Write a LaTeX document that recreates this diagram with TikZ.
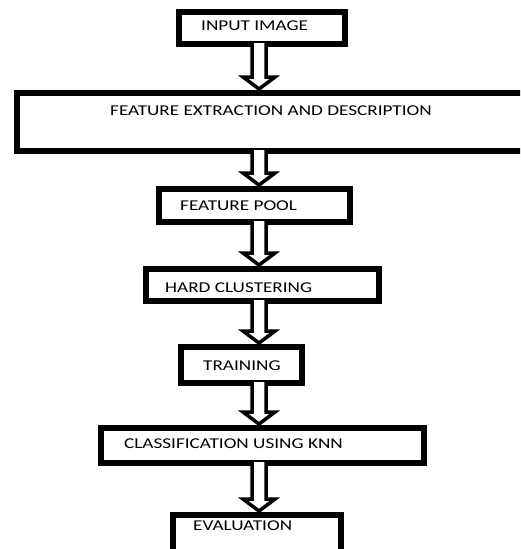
\documentclass[tikz,border=0pt]{standalone}
\usepackage{fontspec}
\setmainfont{Carlito}[FakeStretch=1.28]
\usetikzlibrary{calc}
\tikzset{
  stepbox/.style={draw=black, line width=6pt, fill=white, rectangle, inner sep=0pt},
  lbl/.style={anchor=base west, inner sep=0pt, text=black, font=\fontsize{15}{17}\selectfont},
  hollow/.style={draw=black, line width=3.5pt, fill=white, line join=miter}
}
\newcommand{\hollowarrow}[2]{%
  \path[hollow] let \p1=(#1.south -| ax), \p2=(#2.north -| ax) in
    (\x1-7pt,\y1+4pt) -- (\x1-7pt,\y2+13pt) -- (\x1-16pt,\y2+13pt) -- (\x1,\y2+1pt)
    -- (\x1+16pt,\y2+13pt) -- (\x1+7pt,\y2+13pt) -- (\x1+7pt,\y1+4pt);}
\begin{document}
\begin{tikzpicture}[x=1pt,y=-1pt]
\useasboundingbox (0,0) rectangle (520,549);
\clip (0,0) rectangle (520,549);
\fill[white] (0,0) rectangle (520,549);
\coordinate (ax) at (259,0);
% boxes
\node[stepbox, minimum width=166pt, minimum height=32pt] (b1) at (262,28) {};
\node[stepbox, minimum width=515pt, minimum height=58pt] (b2) at (274.5,122) {};
\node[stepbox, minimum width=191pt, minimum height=33pt] (b3) at (254.5,205.5) {};
\node[stepbox, minimum width=233pt, minimum height=32pt] (b4) at (262.5,285) {};
\node[stepbox, minimum width=121pt, minimum height=36pt] (b5) at (241.5,365) {};
\node[stepbox, minimum width=323pt, minimum height=35pt] (b6) at (262.5,445.5) {};
\node[stepbox, minimum width=168pt, minimum height=42pt] (b7) at (257,536) {};
% arrows
\hollowarrow{b1}{b2}
\hollowarrow{b2}{b3}
\hollowarrow{b3}{b4}
\hollowarrow{b4}{b5}
\hollowarrow{b5}{b6}
\hollowarrow{b6}{b7}
% labels
\node[lbl] (t1) at (201,30) {INPUT IMAGE};
\node[lbl] (t2) at (110,115) {FEATURE EXTRACTION AND DESCRIPTION};
\node[lbl] (t3) at (180,210) {FEATURE POOL};
\node[lbl] (t4) at (165,292) {HARD CLUSTERING};
\node[lbl] (t5) at (203,370) {TRAINING};
\node[lbl] (t6) at (124,448) {CLASSIFICATION USING KNN};
\node[lbl] (t7) at (193,530) {EVALUATION};
\end{tikzpicture}
\end{document}
